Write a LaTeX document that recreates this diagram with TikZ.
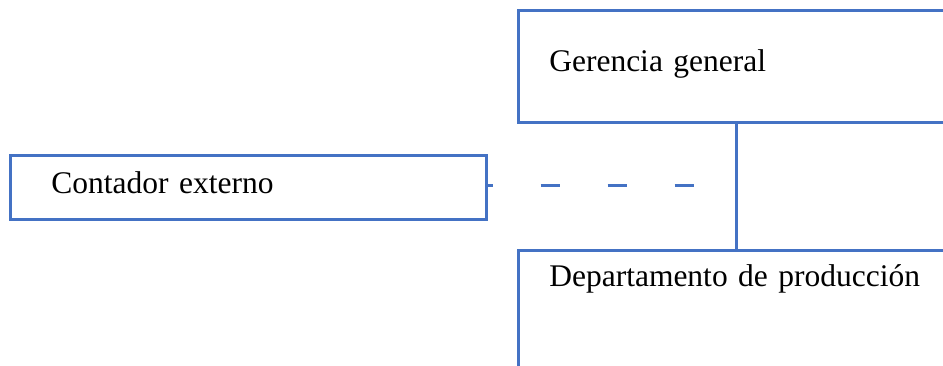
\documentclass[tikz,border=0pt]{standalone}
\usepackage{fontspec}
\setmainfont{Liberation Serif}
\definecolor{orgblue}{HTML}{4472C4}
\tikzset{
	unitbox/.style={draw=orgblue, line width=2.6pt, anchor=north west, align=left,
		inner ysep=0pt, font=\fontsize{31.5}{38}\selectfont},
	link/.style={draw=orgblue, line width=2.6pt},
}

\begin{document}
\begin{tikzpicture}[x=1pt, y=-1pt]
	%%%%% START %%%%%
	\clip (0, 0) rectangle (943, 365);
	
	\node[unitbox, inner xsep=31pt, text width=500pt, text height=61pt, text depth=51pt] (gerencia) at (517, 9) {Gerencia general};
	\node[unitbox, inner xsep=41pt, text width=394pt, text height=38pt, text depth=26pt] (contador) at (9, 154) {Contador externo};
	\node[unitbox, inner xsep=31pt, text width=500pt, text height=36pt, text depth=140pt] (depto) at (517, 249) {Departamento de producción};
	
	\coordinate (cruce) at (736.5, 185.5);
	\draw[link] (cruce |- gerencia.south) -- (cruce |- depto.north);
	\draw[link, dash pattern=on 19pt off 48pt, dash phase=14pt] (contador.east |- cruce) -- (cruce);
	%%%%% END %%%%%
\end{tikzpicture}
\end{document}
